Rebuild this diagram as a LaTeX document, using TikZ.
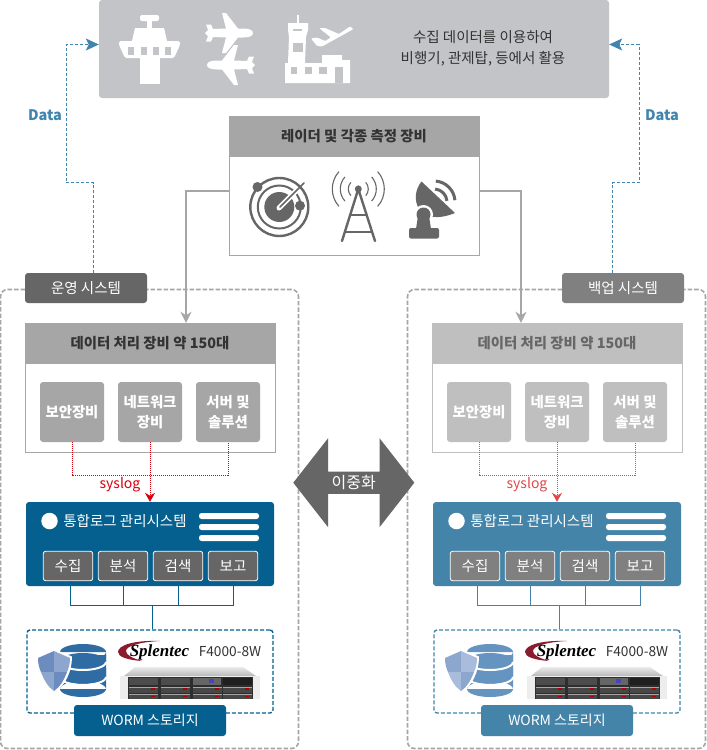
\documentclass[tikz,border=0pt]{standalone}
\usepackage{fontspec}
\setmainfont{Noto Sans CJK KR}
\newfontfamily\logofont{Liberation Serif}
\usepackage{tikz}
\usetikzlibrary{calc,positioning,shapes.arrows,arrows.meta}
\definecolor{topgray}{HTML}{C3C4C8}
\definecolor{bandgray}{HTML}{A6A6A6}
\definecolor{bandlight}{HTML}{BFBFBF}
\definecolor{icongray}{HTML}{666666}
\definecolor{sublight}{HTML}{808080}
\definecolor{darktext}{HTML}{333333}
\definecolor{maindark}{HTML}{05608F}
\definecolor{mainlight}{HTML}{4484A9}
\definecolor{diskdark}{HTML}{2F6CA3}
\definecolor{disklight}{HTML}{6494BF}
\definecolor{shieldaL}{HTML}{6C8CC0}
\definecolor{shieldbL}{HTML}{8DA6CE}
\definecolor{shieldaR}{HTML}{8DA6CE}
\definecolor{shieldbR}{HTML}{A9BCDB}
\definecolor{sysred}{HTML}{D7000F}
\definecolor{sysredlight}{HTML}{E2474C}
\definecolor{datablue}{HTML}{3F85AD}
\definecolor{logored}{HTML}{8A1C2E}
\tikzset{plane/.pic={
\fill[white] (24,0) .. controls (24,-3) and (20,-4.5) .. (14,-4.5) -- (9,-4.5) -- (-3,-20) -- (-7,-20) -- (-3,-4.5) -- (-16,-4) -- (-18,-8.5) -- (-23,-8.5) -- (-21,-3) -- (-24,0)
 -- (-21,3) -- (-23,8.5) -- (-18,8.5) -- (-16,4) -- (-3,4.5) -- (-7,20) -- (-3,20) -- (9,4.5) -- (14,4.5) .. controls (20,4.5) and (24,3) .. (24,0) -- cycle;
}}
\begin{document}
\begin{tikzpicture}[x=1pt,y=-1pt]
\tikzstyle{every node}=[inner sep=0pt, font=\fontsize{14.5}{18}\selectfont]
\tikzstyle{frame}=[draw=bandgray, line width=1pt, fill=white]
\tikzstyle{band}=[font=\fontsize{14.4}{18}\selectfont\bfseries]
\tikzstyle{panel}=[draw=bandgray, line width=1.6pt, dash pattern=on 4.5pt off 2pt, rounded corners=7pt, minimum width=298pt, minimum height=459pt]
\tikzstyle{tabbox}=[fill=icongray, text=white, rounded corners=3pt, minimum width=122pt, minimum height=30pt]
\tikzstyle{smallbox}=[rounded corners=3pt, text=white, minimum width=64pt, minimum height=60pt, align=center, font=\fontsize{14.4}{20}\selectfont\bfseries]
\tikzstyle{subbox}=[draw=white, line width=.8pt, rounded corners=2.5pt, text=white, minimum width=49.5pt, minimum height=29.5pt]
\tikzstyle{grayarrow}=[draw=bandgray, line width=1.6pt, -{Stealth[length=11pt,width=11pt]}]
\tikzstyle{datalink}=[draw=datablue, line width=.8pt, dash pattern=on 3pt off 2pt, -{Stealth[length=13pt,width=12pt,inset=3pt]}]
\tikzstyle{redlink}=[line width=.8pt, dash pattern=on 1pt off 1pt]

\fill[white] (0,0) rectangle (707,750);
\useasboundingbox (0,0) rectangle (707,750);

% top box
\node[fill=topgray, rounded corners=3pt, minimum width=510pt, minimum height=98pt] (top) at (354,49) {};
\node[align=center, text=darktext, font=\fontsize{14.5}{21}\selectfont] (toptext) at (483,48.5) {수집 데이터를 이용하여\\비행기, 관제탑, 등에서 활용};
% control tower
\fill[white, rounded corners=2pt] (140,15) rectangle (159,21);
\fill[white] (147,20) rectangle (152,29);
\fill[white] (135,28) -- (164,28) -- (167,41) -- (132,41) -- cycle;
\fill[white, rounded corners=1.5pt] (119,41) -- (180,41) -- (180,45) -- (174,58) -- (125,58) -- (119,45) -- cycle;
\fill[white] (140,57) rectangle (160,84);
\foreach \wx in {128,141,153,165}
  \fill[topgray] (\wx,47) rectangle ++(6,8);
\pic at (229,33) {plane};
\pic[xscale=-1] at (231,65) {plane};
% airport
\fill[white] (297.3,15) rectangle (299.3,24);
\fill[white] (288,23) -- (308,23) -- (308,30) -- (306,37) -- (305,63) -- (322,63) -- (322,55) -- (342,55) -- (342,60) -- (350,60) -- (350,83) -- (285,83) -- (285,63) -- (288,63) -- (289,37) -- (288,30) -- cycle;
\fill[topgray] (293,29) rectangle (302,31);
\fill[topgray] (293,43) rectangle (303,52);
\foreach \wx/\wd in {291/6,305/7,319/8}
  \fill[topgray] (\wx,67) rectangle ++(\wd,7);
\fill[topgray] (335,67) rectangle (343,83);
\fill[white, rounded corners=1pt] (311,38.5) -- (317,37.5) -- (325,41) -- (331,37.5) -- (319,28) -- (325,28) -- (339,34) -- (350,26.5) -- (353.5,29) -- (322,46.5) -- (317,46) -- cycle;

% radar box
\node[frame, minimum width=250pt, minimum height=139pt] (radar) at (354,185.5) {};
\node[fill=bandgray, band, text=darktext, minimum width=251pt, minimum height=41pt] (radarhead) at (354,136.5) {레이더 및 각종 측정 장비};
\draw[icongray, line width=2.4pt] (279.3,207) circle (29);
\draw[icongray, line width=2pt] (279.3,207) circle (21.5);
\fill[icongray] (279.3,207) circle (15);
\fill[icongray] (257.5,187) circle (5);
\fill[icongray] (300,205.7) circle (5);
\draw[white, line width=5pt, line cap=round] (279,208) -- (295,192);
\draw[icongray, line width=1.5pt, line cap=round] (280,207) -- (304,183);
\fill[icongray] (358.3,189) circle (3.5);
\draw[icongray, line width=2.4pt, line cap=round] (342,241) -- (358.3,189) -- (375,241);
\draw[icongray, line width=2pt] (349.5,215) -- (367,215) (346,232) -- (371,232);
\foreach \rr in {10,18,26}{
  \draw[icongray, line width=1.1pt] (358.3,189) ++(-42:\rr) arc[start angle=-42, end angle=42, radius=\rr];
  \draw[icongray, line width=1.1pt] (358.3,189) ++(138:\rr) arc[start angle=138, end angle=222, radius=\rr];
}
\fill[icongray] (421.5,181.5) .. controls (408,198) and (418,228) .. (455,213) -- cycle;
\fill[white] (423.5,214.5) circle (9.5);
\fill[icongray] (423.5,214.5) circle (7);
\fill[icongray] (418,216) -- (429,216) -- (431,229) -- (416,229) -- cycle;
\fill[icongray, rounded corners=2pt] (409,228) rectangle (439,238.5);
\foreach \rr in {13,21}
  \draw[icongray, line width=3pt] (434,202) ++(-85:\rr) arc[start angle=-85, end angle=-5, radius=\rr];

% both systems
\foreach \s/\dx/\hd/\hdtext/\mainc/\subc/\diskc/\redc in {L/0/bandgray/darktext/maindark/icongray/diskdark/sysred, R/407/bandlight/icongray/mainlight/sublight/disklight/sysredlight}{
\begin{scope}[xshift=\dx]
\node[panel] (panel\s) at (149.5,519) {};
\node[frame, draw=\hd, minimum width=250pt, minimum height=129pt] (box\s) at (150,387.5) {};
\node[fill=\hd, band, text=\hdtext, minimum width=251pt, minimum height=41pt] (head\s) at (150,343.5) {데이터 처리 장비 약 150대};
\node[smallbox, fill=\hd] (boxa\s) at (72,412) {보안장비};
\node[smallbox, fill=\hd] (boxb\s) at (150,412) {네트워크\\장비};
\node[smallbox, fill=\hd] (boxc\s) at (228,412) {서버 및\\솔루션};
\node[fill=\mainc, rounded corners=3pt, minimum width=248pt, minimum height=84pt] (main\s) at (150,544) {};
\draw[\redc, redlink] (boxa\s.south) |- (boxc\s.south |- 0,475) -- (boxc\s.south);
\draw[\redc, redlink, -{Stealth[length=9pt,width=10pt]}] (boxb\s.south) -- (main\s.north);
\node[text=\redc, font=\fontsize{14}{18}\selectfont] (syslog\s) at (120,485) {syslog};
\node[fill=white, circle, minimum size=16.5pt] (dot\s) at (49.5,521) {};
\node[text=white] (title\s) at (125,521) {통합로그 관리시스템};
\foreach \by in {516,527,538}
  \fill[white, rounded corners=2.5pt] (199,\by-3) rectangle (259,\by+3);
\node[subbox, fill=\subc] (suba\s) at (68,566) {수집};
\node[subbox, fill=\subc] (subb\s) at (123,566) {분석};
\node[subbox, fill=\subc] (subc\s) at (178,566) {검색};
\node[subbox, fill=\subc] (subd\s) at (233,566) {보고};
\coordinate (bus\s) at (152.5,605.5);
\draw[\mainc, line width=.9pt] ([xshift=2.5pt]suba\s.south) |- (bus\s) (subb\s.south) |- (bus\s) (subc\s.south) |- (bus\s) (subd\s.south) |- (bus\s);
\node[draw=\mainc, line width=1.4pt, dash pattern=on 4pt off 2pt, rounded corners=3pt, minimum width=246pt, minimum height=83pt] (store\s) at (150,671.5) {};
\draw[\mainc, line width=.9pt] (bus\s) -- (bus\s |- store\s.north);
\node[fill=\mainc, text=white, rounded corners=3pt, minimum width=152pt, minimum height=31pt, font=\fontsize{14}{18}\selectfont] (worm\s) at (150,720.5) {WORM 스토리지};
% disks
\fill[\diskc] (60,668) rectangle (106,689) (83,689) ellipse (23 and 8);
\fill[\diskc] (60,655) rectangle (106,676) (83,676) ellipse (23 and 8);
\draw[white, line width=2pt] (60,677) arc[start angle=180, end angle=0, x radius=23, y radius=8];
\fill[\diskc] (60,652) rectangle (106,661) (83,661) ellipse (23 and 8) (83,652) ellipse (23 and 8);
\draw[white, line width=2pt] (60,662) arc[start angle=180, end angle=0, x radius=23, y radius=8];
% shield
\fill[white] (54,649) -- (72,656.5) .. controls (72,672) and (65,686) .. (54,693) .. controls (43,686) and (36,672) .. (36,656.5) -- cycle;
\fill[shielda\s] (54,651) -- (38,658) .. controls (38,663) and (39,668) .. (41,672) -- (54,672) -- cycle;
\fill[shieldb\s] (54,651) -- (70,658) .. controls (70,663) and (69,668) .. (67,672) -- (54,672) -- cycle;
\fill[shieldb\s] (41,672) .. controls (44,680) and (48,687) .. (54,691) -- (54,672) -- cycle;
\fill[shielda\s] (67,672) .. controls (64,680) and (60,687) .. (54,691) -- (54,672) -- cycle;
% logo
\fill[logored] (160,641) .. controls (135,640) and (118,645) .. (118,652) .. controls (118,657) and (128,660) .. (142,661) .. controls (132,658) and (126,655) .. (126,651) .. controls (126,646) and (140,642) .. (160,641) -- cycle;
\node[font=\logofont\fontsize{17}{20}\selectfont\bfseries\itshape] (logo\s) at (159.5,652) {Splentec};
\node[text=darktext, font=\fontsize{13.7}{18}\selectfont] (model\s) at (230,652) {F4000-8W};
% server
\shade[top color=black!8, bottom color=black!28] (135,667) -- (243,667) -- (256,676) -- (124,676) -- cycle;
\fill[black!7] (120,675.5) rectangle (260,698.5);
\fill[black!82] (128,676.5) rectangle (253,698.5);
\foreach \bx/\bw in {129/29,161/29}
  \fill[black!70] (\bx,677.5) rectangle ++(\bw,7.5);
\fill[black!60] (193,677.5) rectangle (221,685);
\fill[blue!45!gray] (209,679) rectangle (214,683);
\fill[black!88] (223,677.5) rectangle (252,685);
\foreach \bx in {129,161,193,223}
  \foreach \by/\bh in {686.5/6,694/4.5}{
    \fill[black!72] (\bx,\by) rectangle ++(29,\bh);
    \fill[black!35] (\bx,\by) rectangle ++(29,1);
    \fill[red!70!black] (\bx+22,\by+1.5) rectangle ++(4,1.5);
  }
\end{scope}
}
\node[tabbox] (tabL) at (86,288) {운영 시스템};
\node[tabbox, fill=sublight] (tabR) at (623,288) {백업 시스템};

% arrows
\coordinate (radarL) at (radar.west |- 0,191);
\coordinate (radarR) at (radar.east |- 0,191);
\draw[grayarrow] (radarL) -| ([xshift=36pt]headL.north);
\draw[grayarrow] (radarR) -| ([xshift=-36pt]headR.north);
\coordinate (topinL) at (top.west |- 0,44.5);
\coordinate (topinR) at (top.east |- 0,44.5);
\coordinate (outL) at (93.5,273);
\coordinate (outR) at (612.5,273);
\draw[datalink] (outL) |- (66,182.5) |- (topinL);
\draw[datalink] (outR) |- (639,182.5) |- (topinR);
\node[text=datablue, font=\fontsize{14.5}{18}\selectfont\bfseries] (dataL) at (45,115) {Data};
\node[text=datablue, font=\fontsize{14.5}{18}\selectfont\bfseries] (dataR) at (662,115) {Data};
\node[double arrow, fill=icongray, text=white, minimum height=121pt, minimum width=89pt, double arrow head extend=22.5pt, double arrow tip angle=104, font=\fontsize{16}{18}\selectfont] (dup) at (353.8,482.7) {이중화};
\end{tikzpicture}
\end{document}
